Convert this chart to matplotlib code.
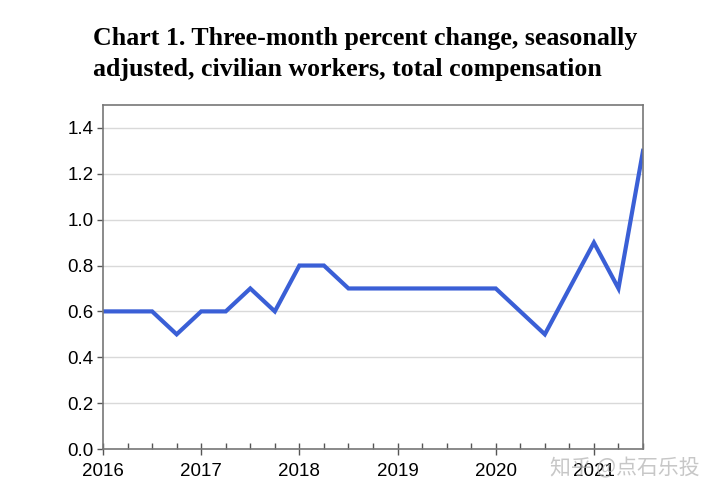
import matplotlib
matplotlib.use("Agg")
import matplotlib.pyplot as plt
from matplotlib.ticker import MultipleLocator

matplotlib.rcParams.update({
    "font.family": "Liberation Sans",
    "font.size": 13.5,
})

# quarterly values, 2016 Q1 .. 2021 Q3
START_YEAR = 2016
VALUES = [0.6, 0.6, 0.6, 0.5,
          0.6, 0.6, 0.7, 0.6,
          0.8, 0.8, 0.7, 0.7,
          0.7, 0.7, 0.7, 0.7,
          0.7, 0.6, 0.5, 0.7,
          0.9, 0.7, 1.3]
YEARS = [2016, 2017, 2018, 2019, 2020, 2021]
TITLE = ("Chart 1. Three-month percent change, seasonally\n"
         "adjusted, civilian workers, total compensation")
WATERMARK = "知乎 @点石乐投"

x = [START_YEAR + i * 0.25 for i in range(len(VALUES))]

fig = plt.figure(figsize=(7.26, 5.0), dpi=100)
ax = fig.add_axes([0.1419, 0.102, 0.7438, 0.688])

ax.grid(True, axis="y", color="#d9d9d9", lw=1)
ax.set_axisbelow(True)
ax.plot(x, VALUES, color="#3a5fd6", lw=3.0, solid_joinstyle="miter")

ax.set_xlim(2016, 2021.5)
ax.set_ylim(0, 1.5)
ax.set_yticks([0.0, 0.2, 0.4, 0.6, 0.8, 1.0, 1.2, 1.4])
ax.set_yticklabels([f"{v:.1f}" for v in ax.get_yticks()])
ax.set_xticks(YEARS)
ax.set_xticklabels([str(y) for y in YEARS])
ax.xaxis.set_minor_locator(MultipleLocator(0.25))
ax.tick_params(axis="x", which="major", direction="inout", length=8, width=1,
               color="#555555", pad=6)
ax.tick_params(axis="x", which="minor", direction="in", length=4, width=1,
               color="#555555")
ax.tick_params(axis="y", direction="out", length=4, width=1, color="#555555", pad=3)
for s in ax.spines.values():
    s.set_color("#777777")
    s.set_linewidth(1.2)

fig.text(0.128, 0.947, TITLE, ha="left", va="top", family="Liberation Serif",
         fontweight="bold", fontsize=18.6, linespacing=1.48)

fig.text(0.757, 0.064, WATERMARK, ha="left", va="center", fontsize=15,
         family=["Noto Sans CJK SC", "DejaVu Sans"], color="#b0b0b0", alpha=0.7)

fig.savefig("out.png", dpi=100)
